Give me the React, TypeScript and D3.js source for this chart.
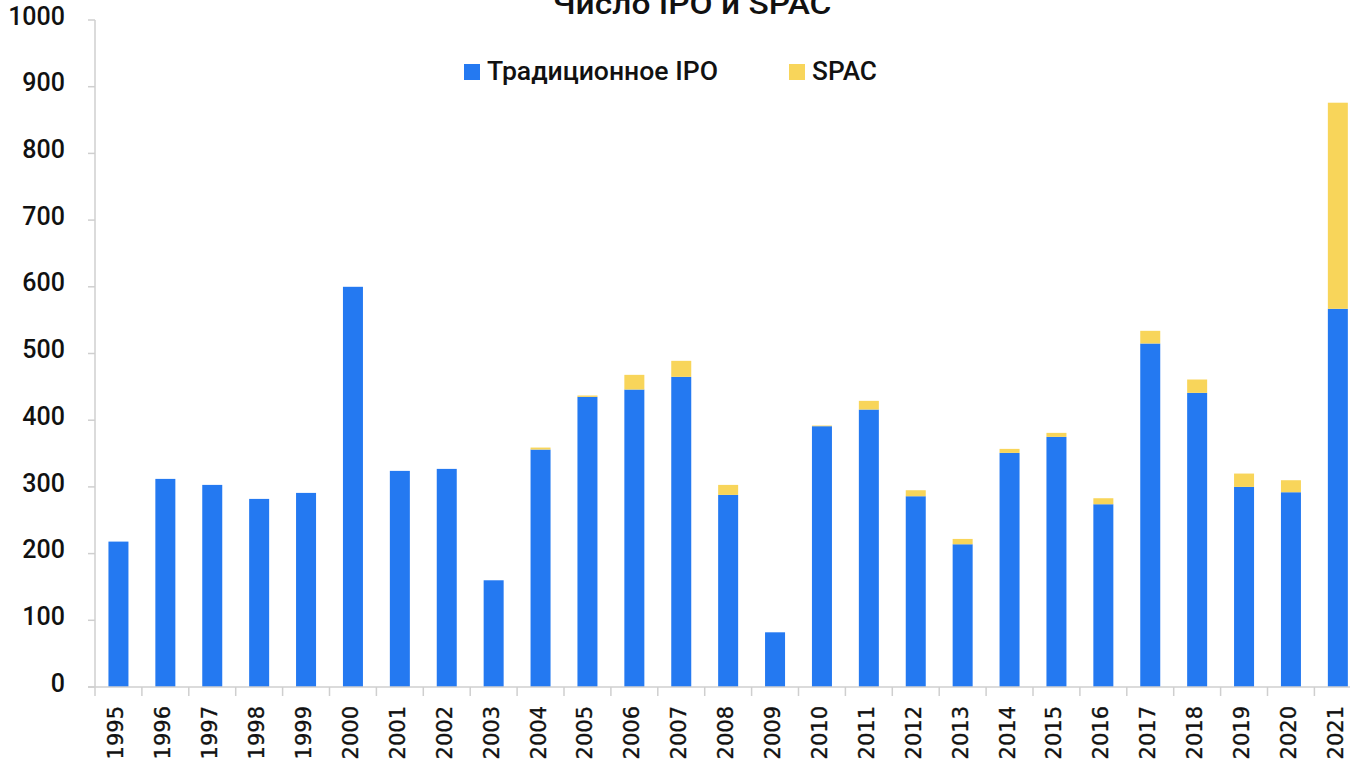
import React from "react";
import * as d3 from "d3";

const years = ["1995","1996","1997","1998","1999","2000","2001","2002","2003","2004","2005","2006","2007","2008","2009","2010","2011","2012","2013","2014","2015","2016","2017","2018","2019","2020","2021"];
const ipoValues = [218,312,303,282,291,600,324,327,160,356,435,446,465,288,82,391,416,286,214,351,375,274,515,441,300,292,567];
const spacValues = [0,0,0,0,0,0,0,0,0,3,2,22,24,15,0,1,13,9,8,6,6,9,19,20,20,18,309];
const yTicks = [0,100,200,300,400,500,600,700,800,900,1000];
const seriesNames = ["Традиционное IPO", "SPAC"];
const titleText = "Число IPO и SPAC";

const BLUE = "#2479F1";
const YELLOW = "#F8D55A";
const AXIS = "#cfcfcf";

export default function App() {
  const W = 1350, H = 772;
  const x0 = 95, step = 46.9;
  const x = d3.scaleBand<string>().domain(years).range([x0, x0 + step * years.length]).padding(0);
  const y = d3.scaleLinear().domain([0, 1000]).range([687, 20]);
  const bw = x.bandwidth();
  const barW = 20;

  const rows = years.map((yr, i) => ({ year: yr, ipo: ipoValues[i], spac: spacValues[i] }));
  const stack = d3.stack<any>().keys(["ipo", "spac"])(rows);
  const colors = [BLUE, YELLOW];

  return (
    <svg width={W} height={H} style={{ position: "absolute", left: 0, top: 0, background: "#fff" }}>
      <text x={692} y={14} textAnchor="middle" fontFamily="Roboto" fontWeight={500} fontSize={30} fill="#111" textLength={279} lengthAdjust="spacingAndGlyphs">{titleText}</text>

      {/* legend */}
      <rect x={464} y={64} width={16} height={16} fill={BLUE} />
      <text x={487} y={80} fontFamily="Roboto" fontWeight={500} fontSize={25} fill="#111" textLength={231} lengthAdjust="spacingAndGlyphs">{seriesNames[0]}</text>
      <rect x={789} y={64} width={16} height={16} fill={YELLOW} />
      <text x={812} y={80} fontFamily="Roboto" fontWeight={500} fontSize={25} fill="#111" textLength={65} lengthAdjust="spacingAndGlyphs">{seriesNames[1]}</text>

      {/* bars */}
      {stack.map((layer, li) => (
        <g key={li} fill={colors[li]}>
          {layer.map((d: any, i: number) => {
            const h = y(d[0]) - y(d[1]);
            if (h <= 0) return null;
            return (
              <rect key={i} x={(x(years[i]) as number) + (bw - barW) / 2} y={y(d[1])} width={barW} height={h} />
            );
          })}
        </g>
      ))}

      {/* y axis */}
      <line x1={x0} x2={x0} y1={y(1000)} y2={y(0)} stroke={AXIS} strokeWidth={1.5} />
      {yTicks.map((t) => (
        <g key={t}>
          <line x1={x0 - 7} x2={x0} y1={y(t)} y2={y(t)} stroke={AXIS} strokeWidth={1.5} />
          <text x={65} y={y(t) - 2} textAnchor="end" dominantBaseline="middle" fontFamily="Roboto" fontWeight={500} fontSize={25} fill="#111">{t}</text>
        </g>
      ))}

      {/* x axis */}
      <line x1={x0 - 7} x2={x0 + step * years.length} y1={y(0)} y2={y(0)} stroke={AXIS} strokeWidth={1.5} />
      {years.map((yr, i) => (
        <line key={"t" + yr} x1={x0 + i * step} x2={x0 + i * step} y1={y(0)} y2={y(0) + 9} stroke={AXIS} strokeWidth={1.5} />
      ))}
      {years.map((yr) => {
        const cx = (x(yr) as number) + bw / 2 - 1;
        return (
          <text key={yr} transform={`translate(${cx},706) rotate(-90)`} textAnchor="end" dominantBaseline="middle" fontFamily="DejaVu Sans" fontSize={21} fill="#111" stroke="#111" strokeWidth={0.35}>{yr}</text>
        );
      })}
    </svg>
  );
}
